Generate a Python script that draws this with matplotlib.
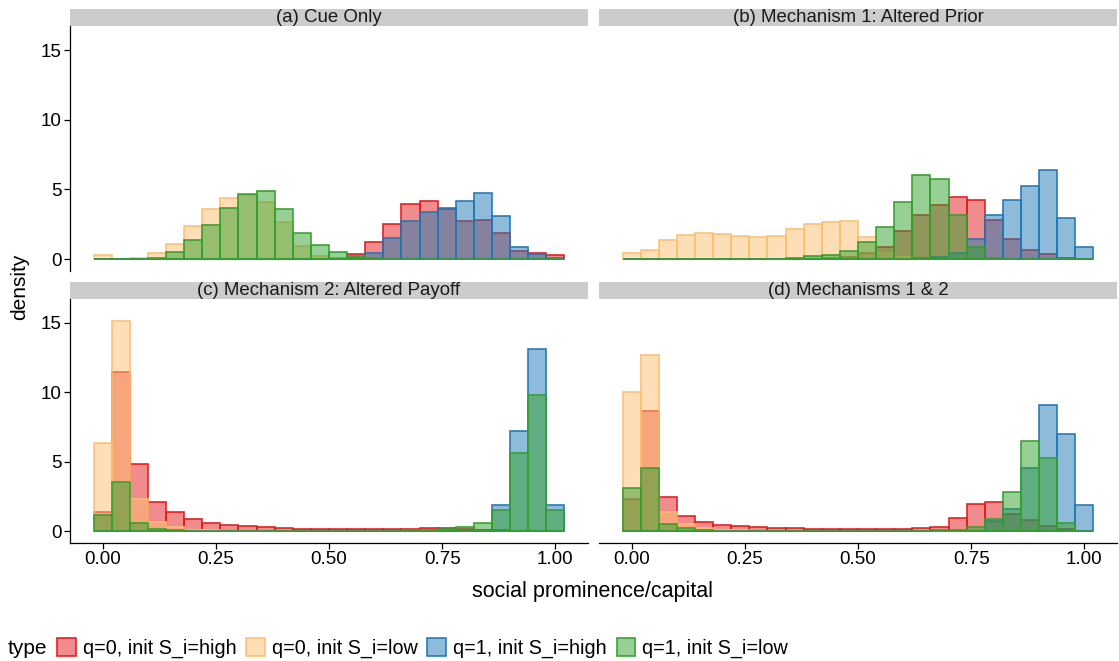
import numpy as np
import matplotlib
matplotlib.use("Agg")
import matplotlib.pyplot as plt
from matplotlib.patches import Rectangle, Patch
from matplotlib.colors import to_rgba

plt.rcParams['font.family'] = ['Liberation Sans', 'DejaVu Sans']

# bin centres (binwidth 0.04)
bins = [0.00, 0.04, 0.08, 0.12, 0.16, 0.20, 0.24, 0.28, 0.32, 0.36, 0.40, 0.44, 0.48,
        0.52, 0.56, 0.60, 0.64, 0.68, 0.72, 0.76, 0.80, 0.84, 0.88, 0.92, 0.96, 1.00]

types = ["q=0, init S_i=high", "q=0, init S_i=low", "q=1, init S_i=high", "q=1, init S_i=low"]
colors = ["#E31A1C", "#FDBF6F", "#1F78B4", "#33A02C"]

# (a) Cue Only
a_q0_high = [0, 0, 0, 0, 0, 0, 0, 0, 0, 0, 0, 0, 0,
             0.05, 0.38, 1.25, 2.52, 3.94, 4.20, 3.60, 2.76, 2.81, 1.85, 0.60, 0.46, 0.31]
a_q0_low = [0.29, 0, 0.10, 0.46, 1.10, 2.38, 3.58, 4.35, 4.60, 4.09, 2.67, 0.96, 0.19,
            0.05, 0, 0, 0, 0, 0, 0, 0, 0, 0, 0, 0, 0]
a_q1_high = [0, 0, 0, 0, 0, 0, 0, 0, 0, 0, 0, 0, 0,
             0, 0.05, 0.40, 1.49, 2.72, 3.37, 3.65, 4.13, 4.74, 3.10, 0.84, 0.36, 0.05]
a_q1_low = [0, 0, 0.02, 0.10, 0.53, 1.37, 2.43, 3.63, 4.66, 4.90, 3.56, 1.88, 0.99,
            0.53, 0.20, 0.05, 0, 0, 0, 0, 0, 0, 0, 0, 0, 0]

# (b) Mechanism 1: Altered Prior
b_q0_high = [0, 0, 0, 0, 0, 0, 0, 0, 0, 0, 0, 0.05, 0.17,
             0.42, 0.86, 2.00, 3.19, 3.85, 4.46, 4.24, 2.77, 1.45, 0.66, 0.37, 0.07, 0]
b_q0_low = [0.41, 0.63, 1.39, 1.73, 1.88, 1.80, 1.63, 1.56, 1.66, 2.14, 2.52, 2.67, 2.70,
            1.60, 0.40, 0.15, 0.05, 0, 0, 0, 0, 0, 0, 0, 0, 0]
b_q1_high = [0, 0, 0, 0, 0, 0, 0, 0, 0, 0, 0, 0, 0,
             0, 0, 0, 0.05, 0.15, 0.40, 1.42, 3.14, 4.24, 5.22, 6.42, 2.94, 0.86]
b_q1_low = [0, 0, 0, 0, 0, 0, 0, 0, 0.03, 0.10, 0.19, 0.31, 0.60,
            1.20, 2.33, 4.09, 6.00, 5.76, 3.19, 0.86, 0.05, 0, 0, 0, 0, 0]

# (c) Mechanism 2: Altered Payoff
c_q0_high = [1.41, 11.50, 4.82, 2.13, 1.34, 0.86, 0.58, 0.41, 0.34, 0.29, 0.22, 0.17, 0.14,
             0.13, 0.12, 0.12, 0.13, 0.15, 0.20, 0.20, 0.15, 0.10, 0.05, 0, 0, 0]
c_q0_low = [6.38, 15.13, 2.30, 0.62, 0.29, 0.10, 0.05, 0, 0, 0, 0, 0, 0,
            0, 0, 0, 0, 0, 0, 0, 0, 0, 0, 0, 0, 0]
c_q1_high = [0, 0, 0, 0, 0, 0, 0, 0, 0, 0, 0, 0, 0,
             0, 0, 0, 0, 0, 0, 0, 0.05, 0.10, 1.87, 7.22, 13.10, 1.87]
c_q1_low = [1.15, 3.57, 0.58, 0.17, 0.07, 0.03, 0, 0, 0, 0, 0, 0, 0,
            0, 0, 0, 0, 0.05, 0.08, 0.12, 0.29, 0.60, 1.51, 5.66, 9.81, 1.49]

# (d) Mechanisms 1 & 2
d_q0_high = [2.33, 8.63, 2.47, 1.10, 0.62, 0.41, 0.34, 0.29, 0.22, 0.19, 0.15, 0.12, 0.12,
             0.12, 0.13, 0.15, 0.19, 0.31, 0.94, 1.97, 2.11, 1.20, 0.82, 0.40, 0.14, 0]
d_q0_low = [10.00, 12.70, 1.41, 0.50, 0.22, 0.10, 0.05, 0, 0, 0, 0, 0, 0,
            0, 0, 0, 0, 0, 0, 0, 0, 0, 0, 0, 0, 0]
d_q1_high = [0, 0, 0, 0, 0, 0, 0, 0, 0, 0, 0, 0, 0,
             0, 0, 0, 0, 0, 0, 0, 0.70, 1.60, 4.56, 9.11, 7.00, 1.87]
d_q1_low = [3.09, 4.53, 0.53, 0.19, 0.05, 0, 0, 0, 0, 0, 0, 0, 0,
            0, 0, 0, 0, 0.05, 0.10, 0.29, 0.86, 2.85, 6.50, 5.28, 0.60, 0]

panels = [
    ("(a) Cue Only", [a_q0_high, a_q0_low, a_q1_high, a_q1_low]),
    ("(b) Mechanism 1: Altered Prior", [b_q0_high, b_q0_low, b_q1_high, b_q1_low]),
    ("(c) Mechanism 2: Altered Payoff", [c_q0_high, c_q0_low, c_q1_high, c_q1_low]),
    ("(d) Mechanisms 1 & 2", [d_q0_high, d_q0_low, d_q1_high, d_q1_low]),
]

W, H = 1119, 661
fig = plt.figure(figsize=(W / 100, H / 100), dpi=100)

# panel boxes in pixels: left, top, right, bottom
boxes = [(70, 26, 588, 271), (599, 26, 1117, 271),
         (70, 299, 588, 543), (599, 299, 1117, 543)]
strip_h = 17.5

for k, (title, series) in enumerate(panels):
    l, t, r, b = boxes[k]
    ax = fig.add_axes([l / W, 1 - b / H, (r - l) / W, (b - t) / H])
    for vals, c in zip(series, colors):
        ax.bar(bins, vals, width=0.04, facecolor=to_rgba(c, 0.5), edgecolor=c,
               linewidth=1.15, zorder=2)
    ax.set_xlim(-0.072, 1.072)
    ax.set_ylim(-0.86, 16.73)
    for s in ["top", "right"]:
        ax.spines[s].set_visible(False)
    ax.spines["left"].set_linewidth(0.9)
    ax.spines["bottom"].set_linewidth(0.9)
    ax.set_xticks([0, 0.25, 0.5, 0.75, 1.0])
    ax.set_xticklabels(["0.00", "0.25", "0.50", "0.75", "1.00"])
    ax.set_yticks([0, 5, 10, 15])
    ax.tick_params(length=4, width=0.9, labelsize=13.5, colors="black", pad=2)
    if k in (0, 1):
        ax.spines["bottom"].set_visible(False)
        ax.tick_params(axis="x", bottom=False, labelbottom=False)
    if k in (1, 3):
        ax.spines["left"].set_visible(False)
        ax.tick_params(axis="y", left=False, labelleft=False)
    sh = strip_h / (b - t)
    ax.add_patch(Rectangle((0, 1), 1, sh, transform=ax.transAxes, clip_on=False,
                           facecolor="#CCCCCC", edgecolor="none"))
    ax.text(0.5, 1 + sh / 2, title, transform=ax.transAxes, ha="center", va="center",
            fontsize=13.4, color="#1A1A1A")

fig.text(20 / W, 1 - 287 / H, "density", rotation=90, ha="center", va="center", fontsize=15)
fig.text(593 / W, 1 - 591 / H, "social prominence/capital", ha="center", va="center",
         fontsize=15.5)

# legend at the bottom
fig.text(8 / W, 1 - 648 / H, "type", ha="left", va="center", fontsize=15)
handles = [Patch(facecolor=to_rgba(c, 0.5), edgecolor=c, linewidth=1.15) for c in colors]
fig.legend(handles, types, ncol=4, loc="center left", bbox_to_anchor=(57 / W, 1 - 648 / H),
           frameon=False, fontsize=14.2, handlelength=0.95, handleheight=1.0,
           handletextpad=0.35, columnspacing=0.5, borderpad=0, borderaxespad=0)

plt.savefig("out.png", dpi=100)
